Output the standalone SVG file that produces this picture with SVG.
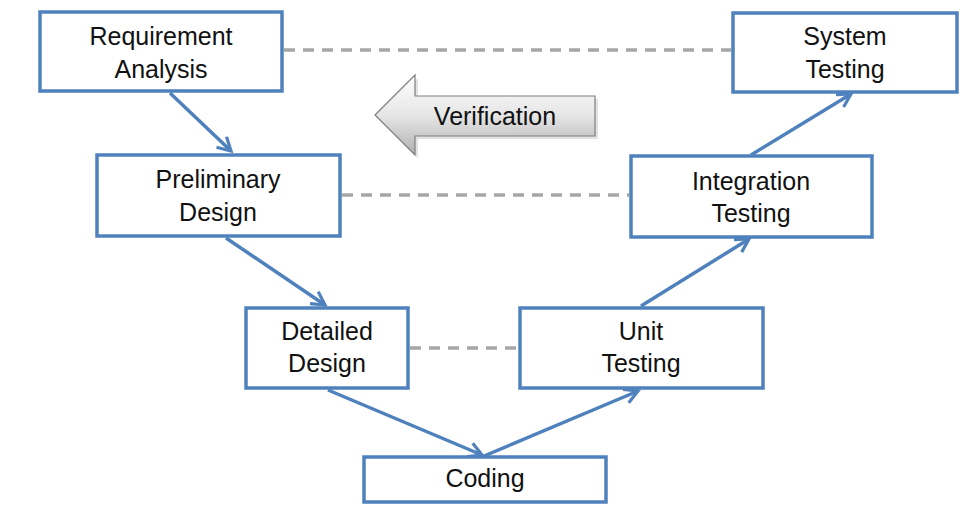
<svg xmlns="http://www.w3.org/2000/svg" width="964" height="511" viewBox="0 0 964 511">
<defs>
<style>
.box{fill:#fff;stroke:#4f81bd;stroke-width:3.5}
.t{font-family:"Liberation Sans",Arial,sans-serif;font-size:25px;fill:#111;text-anchor:middle}
.flow{stroke:#4f81bd;stroke-width:3.5;fill:none;marker-end:url(#ah)}
.dash{stroke:#a6a6a6;stroke-width:3.5;stroke-dasharray:11 8;fill:none}
</style>
<marker id="ah" viewBox="0 0 12 12" refX="10" refY="6" markerWidth="5" markerHeight="5" orient="auto" markerUnits="strokeWidth">
<path d="M1,1 L10,6 L1,11" fill="none" stroke="#4f81bd" stroke-width="2.2" stroke-linejoin="miter"/>
</marker>
<linearGradient id="vg" x1="0" y1="0" x2="0" y2="1">
<stop offset="0" stop-color="#ffffff"/>
<stop offset="0.5" stop-color="#e6e6e6"/>
<stop offset="1" stop-color="#b0b0b0"/>
</linearGradient>
</defs>
<rect width="964" height="511" fill="#fff"/>
<g id="connectors">
<line class="dash" x1="284" y1="50" x2="731" y2="50"/>
<line class="dash" x1="342" y1="195" x2="629" y2="195"/>
<line class="dash" x1="410" y1="348" x2="519" y2="348"/>
<line class="flow" x1="170" y1="93" x2="231" y2="151"/>
<line class="flow" x1="226" y1="238" x2="325" y2="305"/>
<line class="flow" x1="328" y1="390" x2="482" y2="455"/>
<line class="flow" x1="484" y1="456" x2="638" y2="391"/>
<line class="flow" x1="641" y1="306" x2="749" y2="239"/>
<line class="flow" x1="751" y1="155" x2="851" y2="94"/>
</g>
<g id="verification">
<path d="M378,118 L418,78 L418,99 L598,99 L598,139 L418,139 L418,158 Z" fill="#cfcfcf" opacity="0.6"/>
<path d="M375,115 L415,75 L415,96 L595,96 L595,136 L415,136 L415,155 Z" fill="url(#vg)" stroke="#7f7f7f" stroke-width="1.2"/>
<text class="t" x="495" y="125">Verification</text>
</g>
<g id="req">
<rect class="box" x="40" y="12" width="242" height="79"/>
<text class="t" x="161" y="45">Requirement</text>
<text class="t" x="161" y="78">Analysis</text>
</g>
<g id="sys">
<rect class="box" x="733" y="13" width="224" height="79"/>
<text class="t" x="845" y="45">System</text>
<text class="t" x="845" y="78">Testing</text>
</g>
<g id="pre">
<rect class="box" x="97" y="155" width="243" height="81"/>
<text class="t" x="218" y="188">Preliminary</text>
<text class="t" x="218" y="221">Design</text>
</g>
<g id="int">
<rect class="box" x="631" y="156" width="241" height="81"/>
<text class="t" x="751" y="190">Integration</text>
<text class="t" x="751" y="222">Testing</text>
</g>
<g id="det">
<rect class="box" x="246" y="308" width="162" height="80"/>
<text class="t" x="327" y="340">Detailed</text>
<text class="t" x="327" y="372">Design</text>
</g>
<g id="unit">
<rect class="box" x="520" y="308" width="243" height="80"/>
<text class="t" x="641" y="340">Unit</text>
<text class="t" x="641" y="372">Testing</text>
</g>
<g id="coding">
<rect class="box" x="364" y="457" width="242" height="45"/>
<text class="t" x="485" y="487">Coding</text>
</g>
</svg>
